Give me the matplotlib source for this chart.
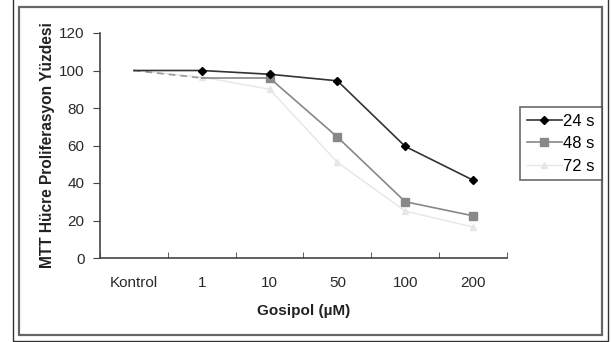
import matplotlib
matplotlib.use("Agg")
import matplotlib.pyplot as plt
from matplotlib.patches import Rectangle

plt.rcParams['font.family'] = ['Liberation Sans', 'DejaVu Sans']

# doses
doses = ['Kontrol', '1', '10', '50', '100', '200']

# proliferation (%) per incubation time
s24 = [100, 100, 98, 94.5, 59.5, 41.5]
s48 = [100, 96, 96, 64.5, 30, 22.5]
s72 = [100, 96.5, 90, 51, 25, 16.5]

fig = plt.figure(figsize=(6.12, 3.42), dpi=100)

# double border round the chart
fig.patches.append(Rectangle((13 / 612, 0.002), 595 / 612, 1.1, transform=fig.transFigure,
                             fill=False, edgecolor='#333333', linewidth=1.0))
fig.patches.append(Rectangle((19 / 612, 1 - 335 / 342), 583 / 612, 328 / 342,
                             transform=fig.transFigure, fill=False,
                             edgecolor='#666666', linewidth=1.6))

ax = fig.add_axes([100 / 612, 1 - 258 / 342, 407 / 612, 225 / 342])
x = list(range(len(doses)))

ax.plot(x, s72, color='#e6e6e6', marker='^', markersize=5, linewidth=1.0,
        markevery=[1, 2, 3, 4, 5], label='72 s')
ax.plot(x[1:], s48[1:], color='#888888', marker='s', markersize=5.5, linewidth=1.2,
        markevery=[1, 2, 3, 4], label='48 s')
ax.plot(x[:2], s48[:2], color='#999999', linewidth=1.2, linestyle=(0, (4, 3)))
ax.plot(x, s24, color='#333333', marker='D', markersize=4.5, markerfacecolor='black',
        markeredgecolor='black', linewidth=1.2, markevery=[1, 2, 3, 4, 5], label='24 s')

ax.set_xlim(-0.5, 5.5)
ax.set_ylim(0, 120)
ax.set_yticks(range(0, 121, 20))
ax.set_xticks(x)
ax.set_xticklabels(doses)
ax.set_xticks([i - 0.5 for i in range(7)], minor=True)
ax.tick_params(axis='x', which='major', length=0, pad=13, labelsize=11, colors='#2a2a2a')
ax.tick_params(axis='x', which='minor', length=4, direction='in', color='#444444')
ax.tick_params(axis='y', length=5, labelsize=11, colors='#2a2a2a', pad=6)
ax.tick_params(axis='y', color='#444444')

for side in ['top', 'right']:
    ax.spines[side].set_visible(False)
for side in ['left', 'bottom']:
    ax.spines[side].set_color('#444444')
    ax.spines[side].set_linewidth(1.2)

ax.set_xlabel('Gosipol (µM)', fontsize=11, fontweight='bold', labelpad=10, color='#222222')
ax.set_ylabel('MTT Hücre Proliferasyon Yüzdesi', fontsize=11.2, fontweight='bold',
              labelpad=3, color='#222222')

handles, labels = ax.get_legend_handles_labels()
order = [2, 1, 0]
leg = fig.legend([handles[i] for i in order], [labels[i] for i in order],
                 loc='upper left', bbox_to_anchor=(520 / 612, 1 - 107 / 342),
                 fontsize=12, frameon=True, fancybox=False, handlelength=2.1,
                 handletextpad=0.1, borderpad=0.4, labelspacing=0.45, borderaxespad=0)
leg.get_frame().set_edgecolor('#444444')
leg.get_frame().set_linewidth(1.2)

fig.savefig('out.png', dpi=100)
